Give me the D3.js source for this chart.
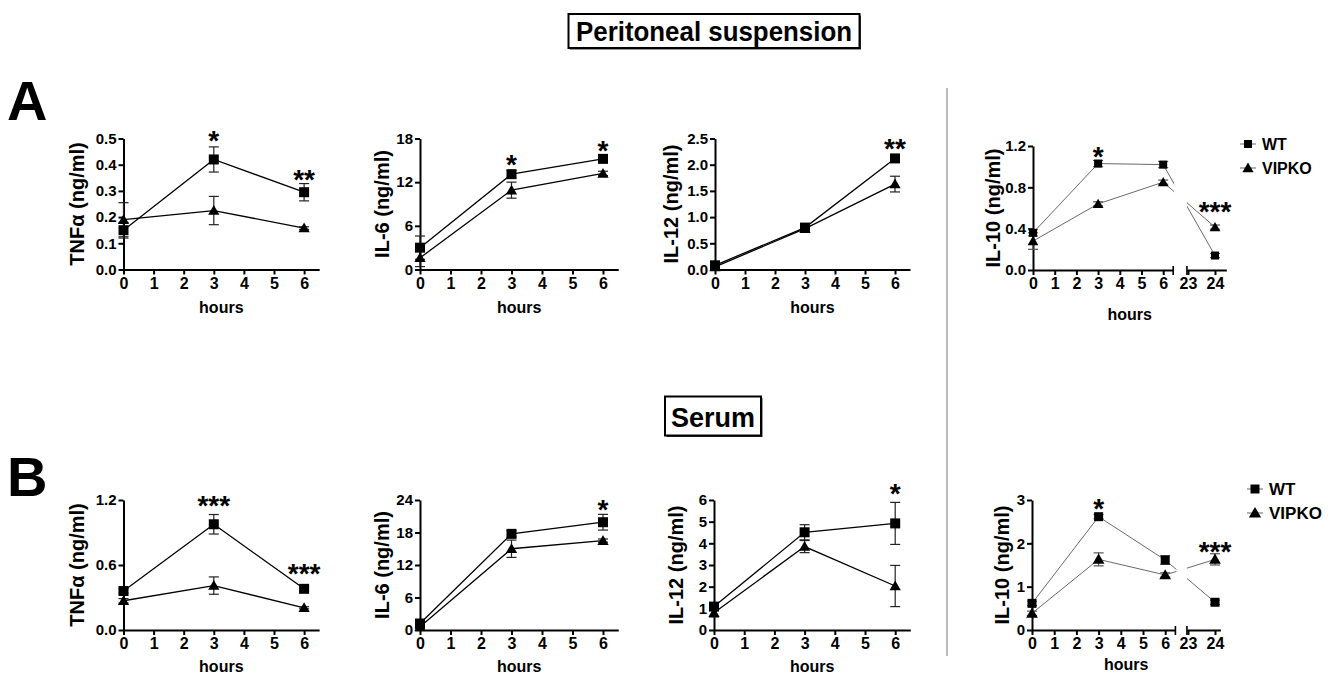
<!DOCTYPE html>
<html><head><meta charset="utf-8">
<script src="https://cdn.jsdelivr.net/npm/d3@7/dist/d3.min.js"></script>
<style>
body{margin:0;background:#fff}
svg{display:block}
text{font-family:"Liberation Sans",Arial,Helvetica,sans-serif;font-weight:bold;fill:#000}
</style>
</head><body>
<svg id="c" width="1336" height="674"></svg>
<script>
// ---------------- DATA ----------------
const hours = [0, 3, 6];
const hoursIL10 = [0, 3, 6, 24];
const xTicks = [0, 1, 2, 3, 4, 5, 6];
const xTicksBreak = [23, 24];
const seriesNames = ["WT", "VIPKO"];

// A: Peritoneal suspension
const tnfA_WT = [0.15, 0.42, 0.295],  tnfA_WT_err = [0.03, 0.048, 0.033];
const tnfA_KO = [0.19, 0.225, 0.158], tnfA_KO_err = [0.065, 0.054, 0.005];
const tnfA_ticks = [0, 0.1, 0.2, 0.3, 0.4, 0.5];
const tnfA_stars = [{h: 3, v: 0.52, s: "*"}, {h: 6, v: 0.368, s: "**"}];

const il6A_WT = [3.0, 13.1, 15.2],  il6A_WT_err = [1.6, 0.5, 0.3];
const il6A_KO = [1.6, 10.9, 13.2],  il6A_KO_err = [1.2, 1.1, 0.3];
const il6A_ticks = [0, 6, 12, 18];
const il6A_stars = [{h: 3, v: 15.3, s: "*"}, {h: 6, v: 17.3, s: "*"}];

const il12A_WT = [0.08, 0.80, 2.12], il12A_WT_err = [0.03, 0.05, 0.07];
const il12A_KO = [0.05, 0.78, 1.63], il12A_KO_err = [0.03, 0.04, 0.15];
const il12A_ticks = [0, 0.5, 1.0, 1.5, 2.0, 2.5];
const il12A_stars = [{h: 6, v: 2.44, s: "**"}];

const il10A_WT = [0.36, 1.03, 1.02, 0.14],  il10A_WT_err = [0.03, 0.03, 0.03, 0.02];
const il10A_KO = [0.28, 0.64, 0.85, 0.415], il10A_KO_err = [0.08, 0.02, 0.02, 0.02];
const il10A_ticks = [0, 0.4, 0.8, 1.2];
const il10A_stars = [{h: 3, v: 1.16, s: "*"}, {h: 24, v: 0.63, s: "***"}];

// B: Serum
const tnfB_WT = [0.36, 0.976, 0.38], tnfB_WT_err = [0.02, 0.09, 0.02];
const tnfB_KO = [0.27, 0.41, 0.205], tnfB_KO_err = [0.02, 0.08, 0.01];
const tnfB_ticks = [0, 0.6, 1.2];
const tnfB_stars = [{h: 3, v: 1.21, s: "***"}, {h: 6, v: 0.58, s: "***"}];

const il6B_WT = [1.2, 17.75, 19.9], il6B_WT_err = [0.6, 0.6, 1.45];
const il6B_KO = [0.6, 15.0, 16.5],  il6B_KO_err = [0.3, 1.6, 0.3];
const il6B_ticks = [0, 6, 12, 18, 24];
const il6B_stars = [{h: 6, v: 23.4, s: "*"}];

const il12B_WT = [1.08, 4.51, 4.92], il12B_WT_err = [0.1, 0.35, 0.97];
const il12B_KO = [0.8, 3.85, 2.03],  il12B_KO_err = [0.2, 0.28, 0.95];
const il12B_ticks = [0, 1, 2, 3, 4, 5, 6];
const il12B_stars = [{h: 6, v: 6.6, s: "*"}];

const il10B_WT = [0.615, 2.615, 1.615, 0.64], il10B_WT_err = [0.05, 0.05, 0.1, 0.05];
const il10B_KO = [0.385, 1.63, 1.27, 1.63],   il10B_KO_err = [0.05, 0.15, 0.05, 0.13];
const il10B_ticks = [0, 1, 2, 3];
const il10B_stars = [{h: 3, v: 2.96, s: "*"}, {h: 24, v: 1.96, s: "***"}];

// ---------------- LAYOUT ----------------
const svg = d3.select("#c");
const FONT = '"Liberation Sans",Arial,sans-serif';
const rowA = {y0: 269.5, yTop: 138.5, hoursY: 312.5};
const rowB = {y0: 630, yTop: 500, hoursY: 671.5};

const panels = [
  {id: "a1", row: rowA, label: "TNF\u03b1 (ng/ml)", ticks: tnfA_ticks, fmt: d3.format(".1f"), wt: tnfA_WT, wtE: tnfA_WT_err, ko: tnfA_KO, koE: tnfA_KO_err, stars: tnfA_stars, x0: 123.5, k: 30.1, titleX: 77},
  {id: "a2", row: rowA, label: "IL-6 (ng/ml)", ticks: il6A_ticks, fmt: d3.format("d"), wt: il6A_WT, wtE: il6A_WT_err, ko: il6A_KO, koE: il6A_KO_err, stars: il6A_stars, x0: 420, k: 30.5, titleX: 382},
  {id: "a3", row: rowA, label: "IL-12 (ng/ml)", ticks: il12A_ticks, fmt: d3.format(".1f"), wt: il12A_WT, wtE: il12A_WT_err, ko: il12A_KO, koE: il12A_KO_err, stars: il12A_stars, x0: 715, k: 30, titleX: 671},
  {id: "a4", row: {y0: 270, yTop: 146, hoursY: 320}, label: "IL-10 (ng/ml)", ticks: il10A_ticks, fmt: d3.format(".1f"), wt: il10A_WT, wtE: il10A_WT_err, ko: il10A_KO, koE: il10A_KO_err, stars: il10A_stars, x0: 1033, k: 21.7, titleX: 993, broken: true, x23: 1188, k2: 27, axEnd: 24.42, sq: 8, tri: 50},
  {id: "b1", row: rowB, label: "TNF\u03b1 (ng/ml)", ticks: tnfB_ticks, fmt: d3.format(".1f"), wt: tnfB_WT, wtE: tnfB_WT_err, ko: tnfB_KO, koE: tnfB_KO_err, stars: tnfB_stars, x0: 123.5, k: 30.1, titleX: 77},
  {id: "b2", row: rowB, label: "IL-6 (ng/ml)", ticks: il6B_ticks, fmt: d3.format("d"), wt: il6B_WT, wtE: il6B_WT_err, ko: il6B_KO, koE: il6B_KO_err, stars: il6B_stars, x0: 420, k: 30.5, titleX: 382},
  {id: "b3", row: rowB, label: "IL-12 (ng/ml)", ticks: il12B_ticks, fmt: d3.format("d"), wt: il12B_WT, wtE: il12B_WT_err, ko: il12B_KO, koE: il12B_KO_err, stars: il12B_stars, x0: 714, k: 30.2, titleX: 676},
  {id: "b4", row: {y0: 630, yTop: 500, hoursY: 670}, label: "IL-10 (ng/ml)", ticks: il10B_ticks, fmt: d3.format("d"), wt: il10B_WT, wtE: il10B_WT_err, ko: il10B_KO, koE: il10B_KO_err, stars: il10B_stars, x0: 1032, k: 22.2, titleX: 1002, broken: true, x23: 1188, k2: 27, axEnd: 24.2, sq: 9, tri: 60}
];

function drawPanel(p) {
  const g = svg.append("g");
  const r = p.row;
  const yMax = p.ticks[p.ticks.length - 1];
  const y = d3.scaleLinear().domain([0, yMax]).range([r.y0, r.yTop]);
  const xEnd = p.broken ? 6.46 : 6.5;
  const x1 = d3.scaleLinear().domain([0, xEnd]).range([p.x0, p.x0 + xEnd * p.k]);
  let x2 = null;
  if (p.broken) {
    const s = 22.96;
    x2 = d3.scaleLinear().domain([s, p.axEnd]).range([p.x23 + (s - 23) * p.k2, p.x23 + (p.axEnd - 23) * p.k2]);
  }
  const X = h => (h > 12 ? x2(h) : x1(h));
  const hrs = p.broken ? hoursIL10 : hours;
  const gray = !!p.broken;
  const lineCol = gray ? "#6a6a6a" : "#000";
  const lineW = gray ? 1 : 1.3;

  // axes
  const yAx = g.append("g").attr("transform", `translate(${p.x0},0)`)
    .call(d3.axisLeft(y).tickValues(p.ticks).tickFormat(p.fmt).tickSize(5).tickPadding(2).tickSizeOuter(0));
  yAx.selectAll("text").style("font-size", "15px").style("font-family", FONT).style("font-weight", "bold");
  const xAx = g.append("g").attr("transform", `translate(0,${r.y0})`)
    .call(d3.axisBottom(x1).tickValues(xTicks).tickFormat(d3.format("d")).tickSize(5).tickPadding(3).tickSizeOuter(0));
  const axes = [yAx, xAx];
  if (p.broken) {
    const xAx2 = g.append("g").attr("transform", `translate(0,${r.y0})`)
      .call(d3.axisBottom(x2).tickValues(xTicksBreak).tickFormat(d3.format("d")).tickSize(5).tickPadding(3).tickSizeOuter(0));
    axes.push(xAx2);
    [x1.range()[1], x2.range()[0]].forEach(cx => {
      g.append("line").attr("x1", cx).attr("x2", cx).attr("y1", r.y0 - 4).attr("y2", r.y0 + 5)
        .attr("stroke", "#000").attr("stroke-width", 1.6);
    });
  }
  axes.forEach((a, i) => {
    a.select(".domain").attr("stroke", "#000").attr("stroke-width", 2);
    a.selectAll(".tick line").attr("stroke", "#000").attr("stroke-width", 2);
    if (i > 0) a.selectAll("text").style("font-size", "16px").style("font-family", FONT).style("font-weight", "bold");
  });

  // axis titles
  g.append("text").attr("transform", `translate(${p.titleX},${(r.y0 + r.yTop) / 2}) rotate(-90)`)
    .attr("text-anchor", "middle").attr("dominant-baseline", "central").style("font-size", "20px").text(p.label);
  const xr = p.broken ? (x1.range()[0] + x2.range()[1]) / 2 : (x1.range()[0] + x1.range()[1]) / 2;
  g.append("text").attr("x", xr).attr("y", r.hoursY).attr("text-anchor", "middle").style("font-size", "16px").text("hours");

  let clip = null;
  if (p.broken) {
    const cid = "clip-" + p.id;
    const cp = svg.append("clipPath").attr("id", cid);
    cp.append("rect").attr("x", 0).attr("y", 0).attr("width", x1.range()[1] + 1).attr("height", 674);
    cp.append("rect").attr("x", x2.range()[0]).attr("y", 0).attr("width", 200).attr("height", 674);
    clip = `url(#${cid})`;
  }

  const series = [
    {name: seriesNames[0], v: p.wt, e: p.wtE, shape: "sq"},
    {name: seriesNames[1], v: p.ko, e: p.koE, shape: "tri"}
  ];
  const line = d3.line().x(d => X(d.h)).y(d => y(d.v));
  const errCol = gray ? "#555" : "#222";
  series.forEach(s => {
    const pts = hrs.map((h, i) => ({h, v: s.v[i], e: s.e[i]}));
    const path = g.append("path").datum(pts).attr("d", line).attr("fill", "none")
      .attr("stroke", lineCol).attr("stroke-width", lineW);
    if (clip) path.attr("clip-path", clip);
    const eb = g.append("g").selectAll("g").data(pts).join("g");
    eb.append("line").attr("x1", d => X(d.h)).attr("x2", d => X(d.h))
      .attr("y1", d => y(d.v - d.e)).attr("y2", d => y(d.v + d.e)).attr("stroke", errCol).attr("stroke-width", 1.2);
    [-1, 1].forEach(sg => {
      eb.append("line").attr("x1", d => X(d.h) - 5).attr("x2", d => X(d.h) + 5)
        .attr("y1", d => y(d.v + sg * d.e)).attr("y2", d => y(d.v + sg * d.e))
        .attr("stroke", errCol).attr("stroke-width", 1.2);
    });
  });
  series.forEach(s => {
    const pts = hrs.map((h, i) => ({h, v: s.v[i]}));
    const sym = s.shape === "sq"
      ? d3.symbol(d3.symbolSquare, Math.pow(p.sq || 10, 2))
      : d3.symbol(d3.symbolTriangle, p.tri || 55);
    g.append("g").selectAll("path").data(pts).join("path")
      .attr("d", sym).attr("transform", d => `translate(${X(d.h)},${y(d.v) + (s.shape === "tri" ? 1 : 0)})`)
      .attr("fill", "#000");
  });

  const fs = 28;
  g.append("g").selectAll("text").data(p.stars).join("text")
    .attr("x", d => X(d.h)).attr("y", d => y(d.v) + 0.58 * fs)
    .attr("text-anchor", "middle").style("font-size", fs + "px").style("font-weight", "bold")
    .attr("fill", "#111")
    .text(d => d.s);
}
panels.forEach(drawPanel);

function legend(x, y1, y2, fs, sq, tri) {
  const g = svg.append("g");
  [[y1, "sq", seriesNames[0]], [y2, "tri", seriesNames[1]]].forEach(([yy, sh, name]) => {
    g.append("line").attr("x1", x - 8).attr("x2", x + 8).attr("y1", yy).attr("y2", yy).attr("stroke", "#666").attr("stroke-width", 1);
    const sym = sh === "sq" ? d3.symbol(d3.symbolSquare, sq * sq) : d3.symbol(d3.symbolTriangle, tri);
    g.append("path").attr("d", sym).attr("transform", `translate(${x},${yy + (sh === "tri" ? 1 : 0)})`).attr("fill", "#000");
    g.append("text").attr("x", x + 14).attr("y", yy).attr("dominant-baseline", "central").style("font-size", fs + "px").text(name);
  });
}
legend(1248, 144, 168, 16, 8, 55);
legend(1255, 489, 513, 17, 9, 65);

function boxTitle(cx, cy, w, h, txt, fs, tl) {
  svg.append("rect").attr("x", cx - w / 2 + 1.5).attr("y", cy - h / 2 + 1.5).attr("width", w).attr("height", h).attr("fill", "#333");
  svg.append("rect").attr("x", cx - w / 2).attr("y", cy - h / 2).attr("width", w).attr("height", h)
    .attr("fill", "#fff").attr("stroke", "#000").attr("stroke-width", 2);
  const t = svg.append("text").attr("x", cx).attr("y", cy + 1).attr("text-anchor", "middle")
    .attr("dominant-baseline", "central").style("font-size", fs + "px").text(txt);
  if (tl) t.attr("textLength", tl).attr("lengthAdjust", "spacingAndGlyphs");
}
boxTitle(714, 31, 291, 34, "Peritoneal suspension", 27, 276);
boxTitle(713, 416, 96, 39, "Serum", 28, 84);

svg.append("text").attr("x", 7).attr("y", 120).style("font-size", "56px").text("A");
svg.append("text").attr("x", 7).attr("y", 496).style("font-size", "56px").text("B");

svg.append("line").attr("x1", 947).attr("x2", 947).attr("y1", 88).attr("y2", 656).attr("stroke", "#bbb").attr("stroke-width", 2);
</script>
</body></html>
